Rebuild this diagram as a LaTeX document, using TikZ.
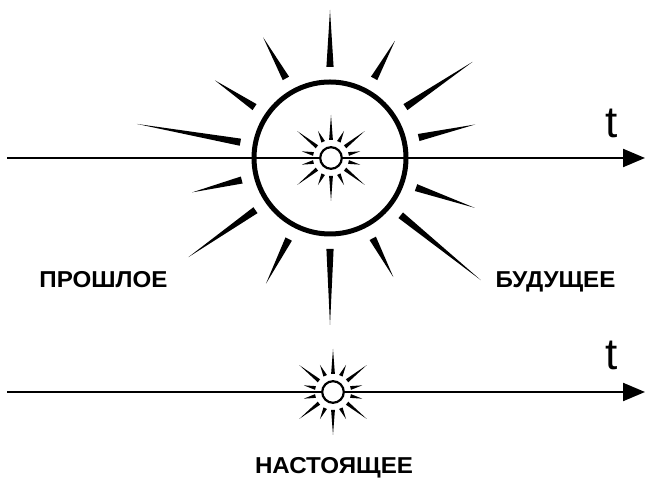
\documentclass[tikz,border=0pt]{standalone}
\usepackage{fontspec}
\setmainfont{Liberation Sans}
\usetikzlibrary{arrows.meta}

\begin{document}
\begin{tikzpicture}[x=1pt,y=1pt,
    axis/.style={line width=2.2pt, -{Triangle[length=22pt,width=18pt]}},
    word/.style={font=\bfseries\fontsize{23}{23}\selectfont, anchor=base, xscale=1.05, transform shape},
    tlabel/.style={font=\fontsize{44}{44}\selectfont, anchor=base}]
			
			\useasboundingbox (0,0) rectangle (647,478);
			
			% Zeitachsen
			\coordinate (start1) at (7,320);
			\coordinate (end1) at (645,320);
			\coordinate (start2) at (7,86);
			\coordinate (end2) at (645,86);
			\draw[axis] (start1) -- (end1);
			\draw[axis] (start2) -- (end2);
			\node[tlabel] (t1) at (612,340) {t};
			\node[tlabel] (t2) at (612,108) {t};
			
			% Mittelpunkte der Sonnen
			\coordinate (big) at (330,320);
			\coordinate (sun1) at (331,320);
			\coordinate (sun2) at (333,86);
			
			% grosse Sonne
			\draw[line width=5pt] (big) circle (76);
			\foreach \a/\r in {90/148, 61/134, 34/172, 13/149, -19/153, -39/194, -62/135,
			                   -90/167, -117/141, -145/173, -166/142, 170/196, 146/139, 119/138}
			  \fill[shift={(big)}, rotate=\a] (91,-3.6) -- (\r,0) -- (91,3.6) -- cycle;
			
			% kleine Sonnen
			\foreach \c in {sun1, sun2} {
			  \foreach \k/\r in {0/43, 1/30, 2/43, 3/30, 4/30, 5/43, 6/30,
			                     7/43, 8/30, 9/43, 10/30, 11/30, 12/43, 13/30}
			    \fill[shift={(\c)}, rotate={90+\k*360/14}] (18,-1.9) -- (\r,0) -- (18,1.9) -- cycle;
			  \draw[line width=2.2pt, fill=white] (\c) circle (10.8);
			}
			
			% Beschriftungen
			\node[word] (past) at (103.5,190) {ПРОШЛОЕ};
			\node[word] (future) at (555.5,190) {БУДУЩЕЕ};
			\node[word] (present) at (334,4) {НАСТОЯЩЕЕ};
			
		\end{tikzpicture}
\end{document}
